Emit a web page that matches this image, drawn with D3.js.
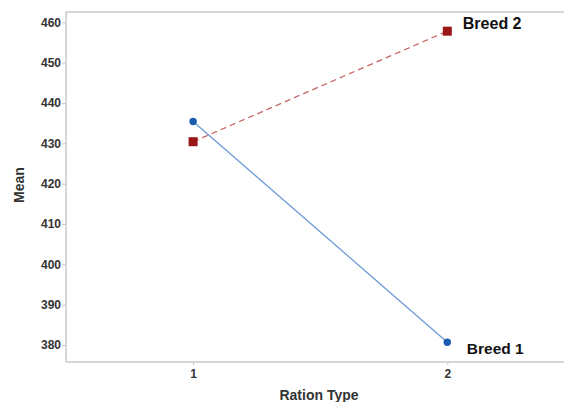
<!DOCTYPE html>
<html><head><meta charset="utf-8">
<script src="https://cdn.jsdelivr.net/npm/d3@7"></script>
<style>body{margin:0;background:#fff}svg{display:block}</style>
</head><body>
<script>
const rationTypes = [1, 2];
const breed1 = [435.4, 380.7];
const breed2 = [430.4, 457.8];
const seriesNames = ["Breed 1", "Breed 2"];
const yTicks = [380, 390, 400, 410, 420, 430, 440, 450, 460];

(function () {
const W = 564, H = 402;
const svg = d3.select("body").append("svg").attr("width", W).attr("height", H);
const pLeft = 66, pRight = 574.4, pTop = 12, pBottom = 362;
const x = d3.scaleLinear().domain([0.5, 2.5]).range([pLeft, pRight]);
const y = d3.scaleLinear().domain([380, 460]).range([345, 22.3]);
const font = "'Liberation Sans', Arial, sans-serif";
const frame = "#c8c8c8";

svg.append("line").attr("x1", pLeft).attr("x2", W).attr("y1", pTop).attr("y2", pTop)
  .attr("stroke", frame).attr("stroke-width", 1.5);

const yAxis = svg.append("g").attr("transform", `translate(${pLeft},0)`)
  .call(d3.axisLeft(y).tickValues(yTicks).tickSize(4).tickPadding(1).tickSizeOuter(0));
yAxis.select(".domain").attr("stroke", frame).attr("stroke-width", 1.5).attr("d", `M0,${pTop}V${pBottom}`);
yAxis.selectAll(".tick line").attr("stroke", frame);
yAxis.selectAll(".tick text").attr("font-family", font).attr("font-size", 12).attr("font-weight", 700).attr("fill", "#333");

const xAxis = svg.append("g").attr("transform", `translate(0,${pBottom})`)
  .call(d3.axisBottom(x).tickValues(rationTypes).tickFormat(d3.format("d")).tickSize(3).tickSizeOuter(0));
xAxis.select(".domain").attr("stroke", frame).attr("stroke-width", 1.5).attr("d", `M${pLeft},0H${W}`);
xAxis.selectAll(".tick line").attr("stroke", frame);
xAxis.selectAll(".tick text").attr("font-family", font).attr("font-size", 12).attr("font-weight", 700).attr("fill", "#333").attr("dy", "0.8em");

svg.append("text").attr("transform", `translate(24,185) rotate(-90)`)
  .attr("text-anchor", "middle").attr("font-family", font).attr("font-size", 14).attr("font-weight", 700)
  .attr("fill", "#333").text("Mean");
svg.append("text").attr("x", 319).attr("y", 399.5).attr("text-anchor", "middle")
  .attr("font-family", font).attr("font-size", 14).attr("font-weight", 700).attr("fill", "#333").text("Ration Type");

const line = d3.line().x((d, i) => x(rationTypes[i])).y(d => y(d));

svg.append("path").datum(breed2).attr("d", line).attr("fill", "none")
  .attr("stroke", "#c46666").attr("stroke-width", 1.3).attr("stroke-dasharray", "6,4");
svg.append("path").datum(breed1).attr("d", line).attr("fill", "none")
  .attr("stroke", "#6b9bd6").attr("stroke-width", 1.3);

svg.selectAll(".sq").data(breed2).enter().append("rect")
  .attr("x", (d, i) => x(rationTypes[i]) - 4.5).attr("y", d => y(d) - 4.5)
  .attr("width", 9).attr("height", 9).attr("fill", "#9b1616");
svg.selectAll(".ci").data(breed1).enter().append("circle")
  .attr("cx", (d, i) => x(rationTypes[i])).attr("cy", d => y(d)).attr("r", 3.7).attr("fill", "#1a5cb0");

svg.append("text").attr("x", x(2) + 15.5).attr("y", y(breed2[1]) - 1.7)
  .attr("font-family", font).attr("font-size", 16).attr("font-weight", 700).attr("fill", "#111").text(seriesNames[1]);
svg.append("text").attr("x", x(2) + 19.5).attr("y", y(breed1[1]) + 11.7)
  .attr("font-family", font).attr("font-size", 15.5).attr("font-weight", 700).attr("fill", "#111").text(seriesNames[0]);
})();
</script>
</body></html>
